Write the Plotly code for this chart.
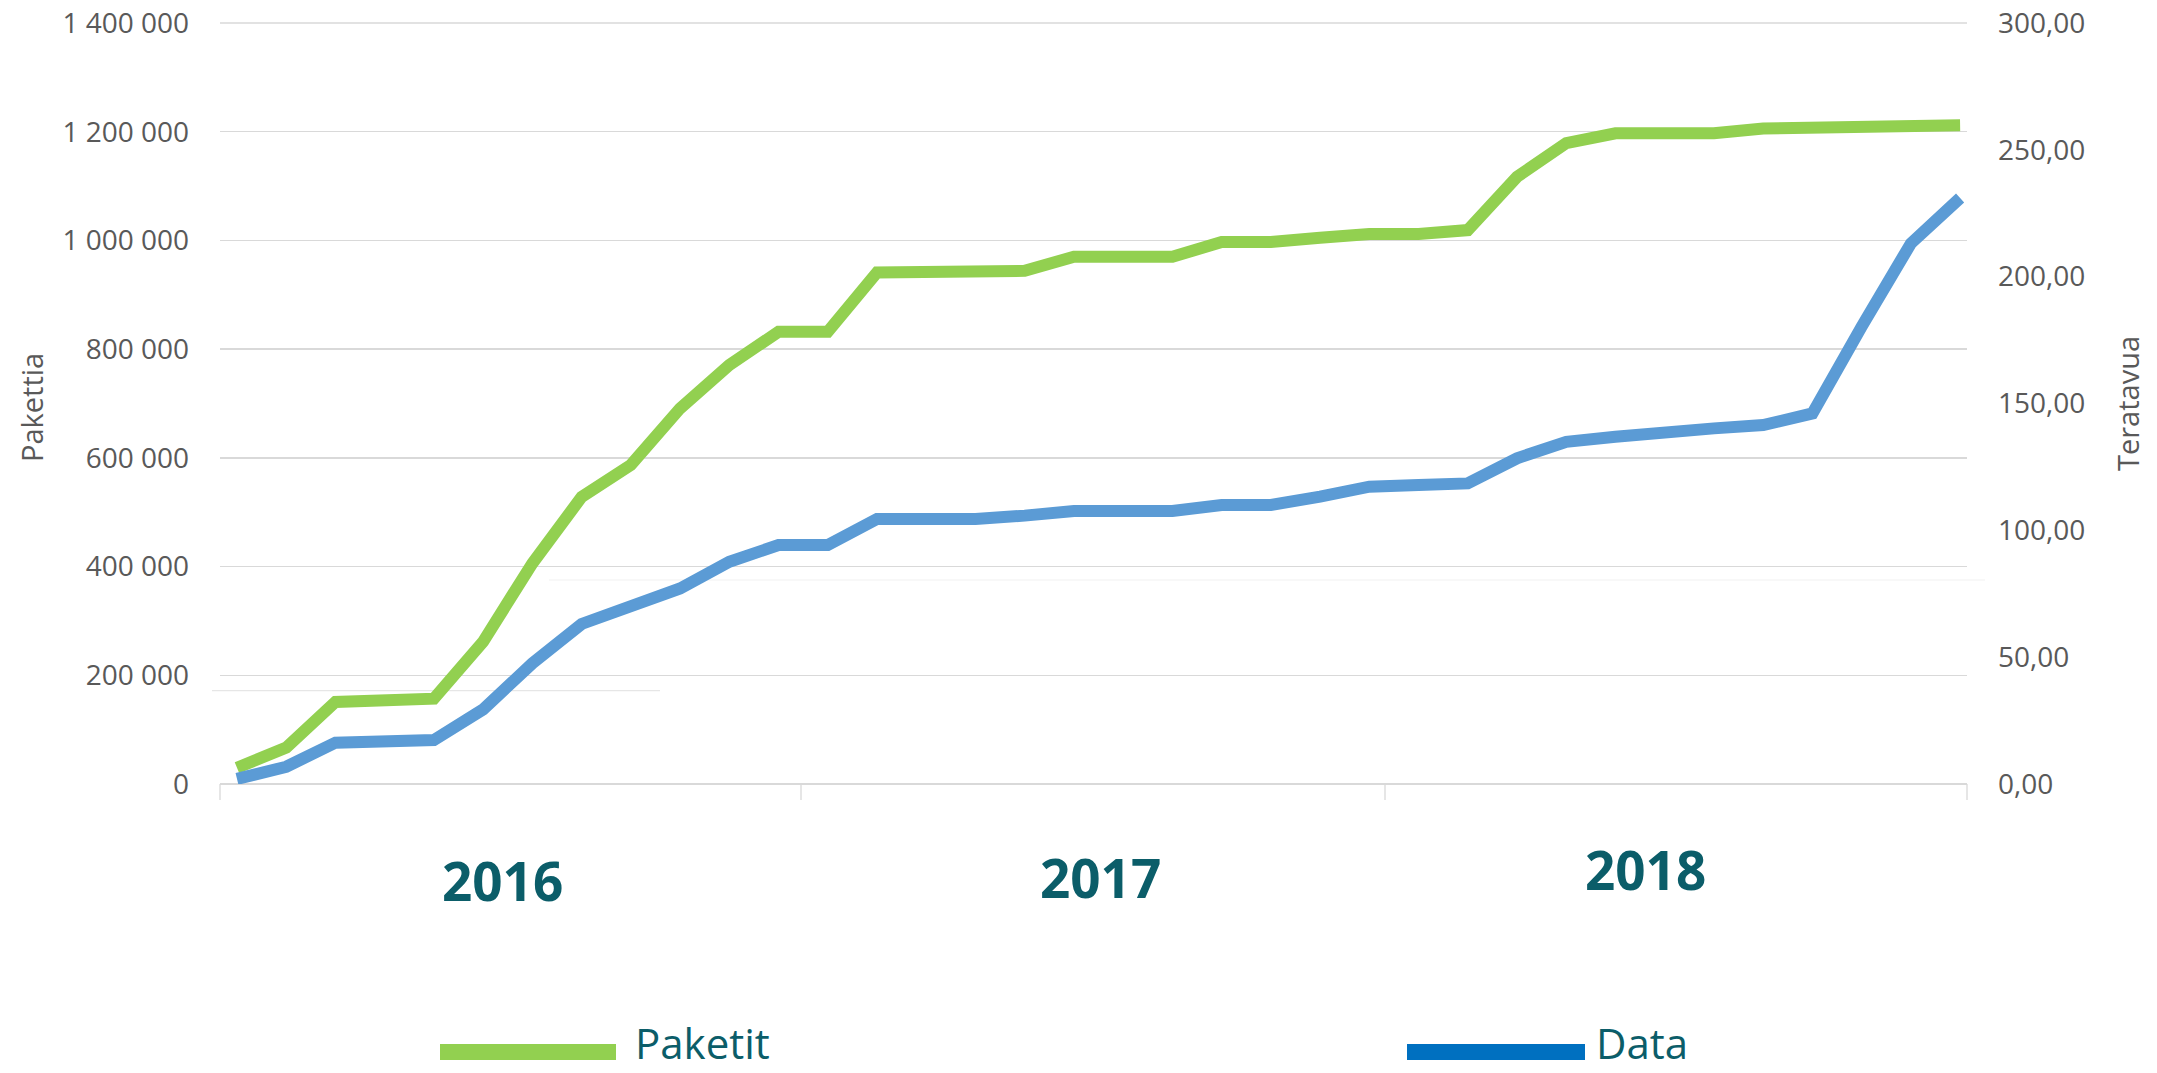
import plotly.graph_objects as go

# ---------------- data ----------------
years = ["2016", "2017", "2018"]
months = [f"{y}-{m:02d}" for y in years for m in range(1, 13)]

paketit = [30000, 67000, 151000, 155000, 157000, 262000, 406000, 528000, 587000,
           691000, 771000, 832000, 832000, 941000, 941000, 941000, 944000, 970000,
           970000, 970000, 997000, 997000, 1005000, 1012000, 1012000, 1019000,
           1117000, 1179000, 1197000, 1197000, 1197000, 1206000, 1207000, 1208000,
           1210000, 1212000]

data_tb = [2.0, 6.8, 16.3, 17.3, 17.3, 29.4, 47.6, 63.1, 69.9, 77.1, 87.6, 94.2,
           94.2, 104.5, 104.5, 104.5, 105.8, 107.6, 107.6, 107.6, 110.0, 110.0,
           113.3, 117.2, 117.9, 118.5, 128.4, 134.9, 136.9, 138.9, 140.2, 141.5,
           146.1, 180.3, 213.1, 231.0]

series_names = ["Paketit", "Data"]
left_title = "Pakettia"
right_title = "Teratavua"

# ---------------- style ----------------
GREEN = "#92d050"
BLUE_LINE = "#5b9bd5"
BLUE_LEG = "#0070c0"
TEAL = "#0b5d69"
AX_TXT = "#595959"
GRID = "#d9d9d9"
FONT = "Open Sans"

fig = go.Figure()
fig.add_trace(go.Scatter(x=months, y=paketit, name=series_names[0], mode="lines",
                         line=dict(color=GREEN, width=12), yaxis="y", hoverinfo="skip"))
fig.add_trace(go.Scatter(x=months, y=data_tb, name=series_names[1], mode="lines",
                         line=dict(color=BLUE_LINE, width=12), yaxis="y2", hoverinfo="skip"))

W, H = 2157, 1073
L, R, T, B = 220, 190, 23, 289
pw, ph = W - L - R, H - T - B


def px(xp):  # page pixel x -> paper
    return (xp - L) / pw


def py(yp):  # page pixel y -> paper
    return (H - B - yp) / ph


shapes = []
# top gridline (edge of plot)
shapes.append(dict(type="line", xref="paper", yref="paper", x0=0, x1=1, y0=1, y1=1,
                   line=dict(color=GRID, width=1.3), layer="below"))
# year boundary tick marks
for f in [0, 581 / pw, 1165 / pw, 1]:
    shapes.append(dict(type="line", xref="paper", yref="paper", x0=f, x1=f,
                       y0=0, y1=py(800), line=dict(color=GRID, width=1.3)))
# faint artefact lines from the original picture
shapes.append(dict(type="line", xref="paper", yref="paper", x0=px(212), x1=px(660),
                   y0=py(690.7), y1=py(690.7), line=dict(color="#e6e6e6", width=1.2),
                   layer="below"))
shapes.append(dict(type="line", xref="paper", yref="paper", x0=px(549), x1=px(1985),
                   y0=py(580), y1=py(580), line=dict(color="#f1f1f1", width=1.2),
                   layer="below"))
# legend samples
shapes.append(dict(type="line", xref="paper", yref="paper", x0=px(440), x1=px(616),
                   y0=py(1052), y1=py(1052), line=dict(color=GREEN, width=16)))
shapes.append(dict(type="line", xref="paper", yref="paper", x0=px(1407), x1=px(1585),
                   y0=py(1052), y1=py(1052), line=dict(color=BLUE_LEG, width=16)))

annotations = []
year_pos = [(502, 880), (1100, 876), (1645, 868)]
for yr, (xx, yy) in zip(years, year_pos):
    annotations.append(dict(text=f"<b>{yr}</b>", xref="paper", yref="paper",
                            x=px(xx), y=py(yy + 1), xanchor="center", yanchor="middle",
                            showarrow=False, font=dict(family=FONT, size=53, color=TEAL)))
annotations.append(dict(text=series_names[0], xref="paper", yref="paper", x=px(634),
                        y=py(1072), xanchor="left", yanchor="bottom", showarrow=False,
                        borderpad=0,
                        font=dict(family=FONT, size=42, color=TEAL)))
annotations.append(dict(text=series_names[1], xref="paper", yref="paper", x=px(1595),
                        y=py(1072), xanchor="left", yanchor="bottom", showarrow=False,
                        borderpad=0,
                        font=dict(family=FONT, size=42, color=TEAL)))
annotations.append(dict(text=left_title, xref="paper", yref="paper", x=px(31),
                        y=py(408), xanchor="center", yanchor="middle", textangle=-90,
                        showarrow=False, font=dict(family=FONT, size=29, color=AX_TXT)))
annotations.append(dict(text=right_title, xref="paper", yref="paper", x=px(2127),
                        y=py(404), xanchor="center", yanchor="middle", textangle=-90,
                        showarrow=False, font=dict(family=FONT, size=29, color=AX_TXT)))

fig.update_layout(
    width=W, height=H,
    margin=dict(l=L, r=R, t=T, b=B, pad=0, autoexpand=False),
    paper_bgcolor="white", plot_bgcolor="white",
    separators=", ",
    showlegend=False,
    hovermode=False,
    font=dict(family=FONT, color=AX_TXT),
    xaxis=dict(type="category", range=[-0.345, 35.14], showticklabels=False,
               showgrid=False, zeroline=False, ticks="", showline=False,
               automargin=False),
    yaxis=dict(range=[0, 1400000], dtick=200000, tickformat=",d",
               showgrid=True, gridcolor=GRID, gridwidth=1.3,
               zeroline=True, zerolinecolor=GRID, zerolinewidth=1.6,
               showline=False, ticks="", ticklabelstandoff=30, automargin=False,
               ticklabeloverflow="allow",
               tickfont=dict(family=FONT, size=28, color=AX_TXT)),
    yaxis2=dict(range=[0, 300], dtick=50, tickformat=".2f", overlaying="y",
                side="right", showgrid=False, zeroline=False, showline=False,
                ticks="", ticklabelstandoff=30, automargin=False,
                ticklabeloverflow="allow",
                tickfont=dict(family=FONT, size=28, color=AX_TXT)),
    shapes=shapes,
    annotations=annotations,
)

fig.write_html("out.html",
               config={"displayModeBar": False, "staticPlot": True},
               post_script="document.body.style.margin='0px';"
                           "document.body.style.overflow='hidden';")
